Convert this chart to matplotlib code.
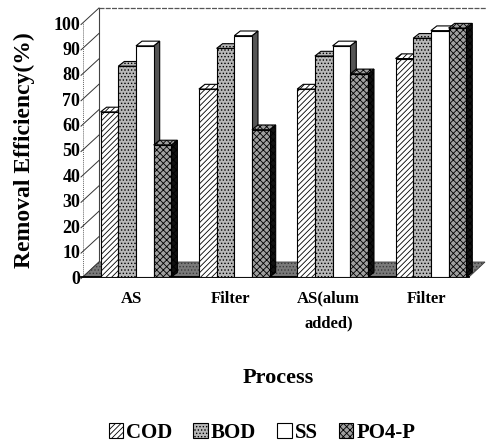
import matplotlib
matplotlib.use('Agg')
import matplotlib.pyplot as plt
from matplotlib.patches import Polygon, Rectangle
import matplotlib.transforms as mtransforms
import numpy as np

# ---------------- data ----------------
processes = ['AS', 'Filter', 'AS(alum\nadded)', 'Filter']
series_names = ['COD', 'BOD', 'SS', 'PO4-P']
cod = [65, 74, 74, 86]
bod = [83, 90, 87, 94]
ss = [91, 95, 91, 97]
po4 = [52, 58, 80, 98]
y_ticks = list(range(0, 101, 10))

# ---------------- style ----------------
plt.rcParams['font.family'] = ['Liberation Serif', 'DejaVu Serif']
plt.rcParams['font.weight'] = 'bold'
plt.rcParams['hatch.linewidth'] = 0.6

styles = [
    dict(face='white', hatch='//////', side='#333333'),
    dict(face='#b8b8b8', hatch='.....', side='#444444'),
    dict(face='white', hatch='', side='#555555'),
    dict(face='#a0a0a0', hatch='xxxxx', side='#111111'),
]

W, H = 486, 446
fig = plt.figure(figsize=(W / 100, H / 100), dpi=100)

# front plane of the plot area in pixels
px_left, px_right = 83, 469
px_bottom, px_top = 277, 23
ax = fig.add_axes([px_left / W, 1 - px_bottom / H,
                   (px_right - px_left) / W, (px_bottom - px_top) / H])
unit_px = 98.3
xmin = -(136 - px_left) / unit_px
xmax = xmin + (px_right - px_left) / unit_px
ax.set_xlim(xmin, xmax)
ax.set_ylim(0, 100)
ypx = (px_bottom - px_top) / 100.0

# depth offsets (pixels -> data)
wall_dx, wall_dy = 16 / unit_px, 15 / ypx
bar_dx, bar_dy = 6 / unit_px, 4.7 / ypx

for s in ax.spines.values():
    s.set_visible(False)
ax.patch.set_visible(False)

# floor
floor = Polygon([(xmin, 0), (xmax, 0), (xmax + wall_dx, wall_dy),
                 (xmin + wall_dx, wall_dy)], closed=True,
                facecolor='#7a7a7a', edgecolor='#3a3a3a', hatch='.....',
                lw=0.6, zorder=1, clip_on=False)
ax.add_patch(floor)
ax.plot([xmin - 0.02, xmax], [0, 0], color='black', lw=1.3, zorder=2,
        clip_on=False)

# back wall edges
ax.plot([xmin + wall_dx, xmin + wall_dx], [wall_dy, 100 + wall_dy],
        color='#444444', lw=0.8, zorder=0.5, clip_on=False)
ax.plot([xmin + wall_dx, xmax + wall_dx + 0.05], [100 + wall_dy, 100 + wall_dy],
        color='#555555', lw=0.9, ls=(0, (4, 1)), zorder=0.5, clip_on=False)
# front value axis and slanted tick lines
ax.plot([xmin, xmin], [0, 100], color='#666666', lw=0.7, ls=(0, (1, 1)),
        zorder=0.5, clip_on=False)
for v in y_ticks:
    ax.plot([xmin - 0.02, xmin + wall_dx], [v - 0.6, v + wall_dy],
            color='#333333', lw=0.7, zorder=0.6, clip_on=False)

# bars
x = np.arange(len(processes))
w = 0.18
offsets = (np.arange(4) - 1.5) * w
values = [cod, bod, ss, po4]
for si, (vals, st) in enumerate(zip(values, styles)):
    base = 10 + 3 * si
    bars = ax.bar(x + offsets[si], vals, width=w, facecolor=st['face'],
                  edgecolor='black', hatch=st['hatch'], lw=0.8,
                  zorder=base + 2, label=series_names[si])
    for r in bars.patches:
        x0, bw, h = r.get_x(), r.get_width(), r.get_height()
        side = Polygon([(x0 + bw, 0), (x0 + bw + bar_dx, bar_dy),
                        (x0 + bw + bar_dx, h + bar_dy), (x0 + bw, h)],
                       closed=True, facecolor=st['side'], edgecolor='black',
                       hatch=st['hatch'], lw=0.8, zorder=base, clip_on=False)
        top = Polygon([(x0, h), (x0 + bar_dx, h + bar_dy),
                       (x0 + bw + bar_dx, h + bar_dy), (x0 + bw, h)],
                      closed=True, facecolor=st['face'], edgecolor='black',
                      hatch=st['hatch'], lw=0.8, zorder=base + 1, clip_on=False)
        ax.add_patch(side)
        ax.add_patch(top)

# ticks
ax.set_yticks(y_ticks)
ax.tick_params(axis='y', length=0, pad=2, labelsize=13)
ax.set_xticks(x, processes)
ax.tick_params(axis='x', length=0, pad=10, labelsize=12)
shift = mtransforms.ScaledTranslation(-4 / 100, 0, fig.dpi_scale_trans)
for t in ax.get_xticklabels():
    t.set_linespacing(1.7)
    t.set_verticalalignment('top')
    t.set_transform(t.get_transform() + shift)

# titles
fig.text(24 / W, 1 - 150 / H, 'Removal Efficiency(%)', rotation=90,
         ha='center', va='center', fontsize=17, fontweight='bold')
fig.text(278 / W, 1 - 378 / H, 'Process', ha='center', va='center',
         fontsize=16, fontweight='bold')

# legend
leg_handles = [Rectangle((0, 0), 1, 1, facecolor=st['face'], edgecolor='black',
                         hatch=st['hatch'], lw=0.8) for st in styles]
fig.legend(leg_handles, series_names, loc='center',
           bbox_to_anchor=(262 / W, 1 - 433 / H), ncol=4, frameon=False,
           handlelength=0.7, handleheight=0.7, handletextpad=0.15,
           columnspacing=1.0, prop=dict(size=15, weight='bold'))

fig.savefig('out.png', dpi=100)
